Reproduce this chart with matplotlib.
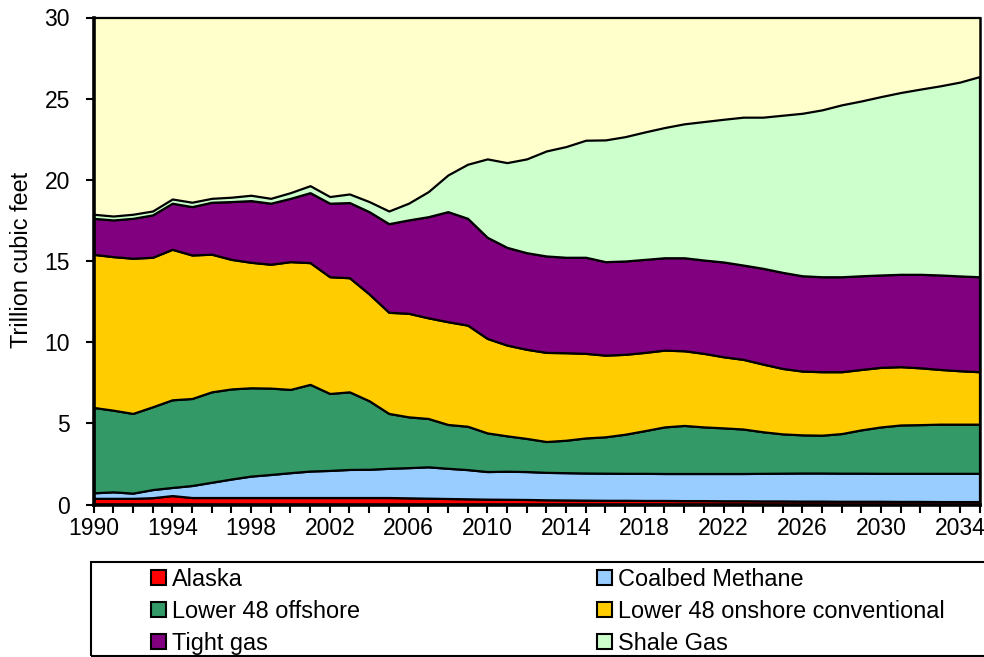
import matplotlib
matplotlib.use("Agg")
import matplotlib.pyplot as plt
from matplotlib import font_manager
from matplotlib.patches import Patch, Rectangle
import numpy as np

years = list(range(1990, 2036))

alaska = [0.38, 0.38, 0.38, 0.42, 0.55, 0.43, 0.43, 0.43, 0.43, 0.43, 0.43, 0.43, 0.43, 0.43, 0.43, 0.43,
          0.41, 0.39, 0.37, 0.35, 0.33, 0.32, 0.31, 0.29, 0.28, 0.27, 0.26, 0.26, 0.25, 0.25, 0.24, 0.24,
          0.23, 0.23, 0.22, 0.22, 0.21, 0.21, 0.20, 0.20, 0.20, 0.19, 0.19, 0.18, 0.18, 0.18]
coalbed = [0.34, 0.40, 0.32, 0.50, 0.50, 0.74, 0.94, 1.14, 1.32, 1.42, 1.53, 1.63, 1.67, 1.73, 1.74, 1.80,
           1.86, 1.93, 1.86, 1.80, 1.70, 1.73, 1.72, 1.69, 1.68, 1.67, 1.67, 1.66, 1.67, 1.66, 1.67, 1.67,
           1.68, 1.68, 1.70, 1.71, 1.73, 1.73, 1.73, 1.73, 1.72, 1.73, 1.73, 1.74, 1.74, 1.74]
offshore = [5.26, 5.03, 4.91, 5.10, 5.40, 5.36, 5.57, 5.55, 5.44, 5.32, 5.13, 5.34, 4.74, 4.78, 4.22, 3.38,
            3.13, 2.98, 2.70, 2.67, 2.38, 2.18, 2.04, 1.90, 2.00, 2.16, 2.24, 2.41, 2.63, 2.87, 2.96, 2.87,
            2.81, 2.74, 2.56, 2.42, 2.35, 2.33, 2.44, 2.67, 2.86, 2.98, 3.00, 3.03, 3.03, 3.03]
onshore = [9.43, 9.46, 9.56, 9.21, 9.27, 8.84, 8.48, 7.98, 7.73, 7.63, 7.87, 7.50, 7.19, 7.03, 6.58, 6.23,
           6.38, 6.20, 6.33, 6.23, 5.82, 5.59, 5.49, 5.49, 5.39, 5.21, 5.03, 4.92, 4.82, 4.73, 4.60, 4.53,
           4.38, 4.29, 4.17, 4.03, 3.93, 3.91, 3.81, 3.72, 3.67, 3.59, 3.50, 3.37, 3.29, 3.23]
tight = [2.22, 2.26, 2.46, 2.61, 2.84, 2.98, 3.20, 3.56, 3.80, 3.76, 3.90, 4.31, 4.53, 4.63, 5.07, 5.46,
         5.75, 6.23, 6.78, 6.58, 6.23, 6.02, 5.95, 5.94, 5.88, 5.92, 5.76, 5.75, 5.73, 5.69, 5.73, 5.75,
         5.84, 5.81, 5.90, 5.92, 5.87, 5.85, 5.85, 5.77, 5.69, 5.69, 5.76, 5.82, 5.84, 5.85]
shale = [0.25, 0.24, 0.25, 0.24, 0.26, 0.27, 0.24, 0.27, 0.33, 0.30, 0.35, 0.43, 0.41, 0.53, 0.62, 0.78,
         1.03, 1.54, 2.26, 3.33, 4.83, 5.22, 5.78, 6.47, 6.82, 7.21, 7.50, 7.66, 7.85, 8.02, 8.25, 8.53,
         8.79, 9.11, 9.31, 9.68, 10.01, 10.28, 10.59, 10.77, 10.99, 11.20, 11.41, 11.65, 11.94, 12.33]

labels = ["Alaska", "Coalbed Methane", "Lower 48 offshore",
          "Lower 48 onshore conventional", "Tight gas", "Shale Gas"]
colors = ["#FF0000", "#99CCFF", "#339966", "#FFCC00", "#800080", "#CCFFCC"]
xtick_labels = [str(y) for y in range(1990, 2035, 4)]

names = {f.name for f in font_manager.fontManager.ttflist}
if "Liberation Sans Narrow" in names:
    fam = ["Liberation Sans Narrow", "DejaVu Sans"]
    sc = 1.0
else:
    fam = ["Liberation Sans", "DejaVu Sans"]
    sc = 0.89
plt.rcParams["font.family"] = fam

W, H = 984, 657
fig = plt.figure(figsize=(W / 100, H / 100), dpi=100)
fig.subplots_adjust(left=93.5 / W, right=979.5 / W, bottom=1 - 504.5 / H, top=1 - 17.5 / H)
ax = fig.add_subplot(111)
ax.set_facecolor("#FFFFCC")

ax.stackplot(years, alaska, coalbed, offshore, onshore, tight, shale,
             colors=colors, edgecolor="black", linewidth=1.6)

ax.set_xlim(1990, 2035)
ax.set_ylim(0, 30)
ax.set_yticks(range(0, 31, 5))
ax.set_xticks(range(1990, 2035, 4))
ax.set_xticklabels(xtick_labels)
ax.set_xticks(range(1990, 2036), minor=True)
ax.tick_params(axis="both", which="both", direction="out", length=6, width=1.5, color="black")
ax.tick_params(axis="x", which="major", labelsize=18.5 * sc, pad=3)
ax.tick_params(axis="y", which="major", labelsize=18.5 * sc, pad=11)

for side, lw in [("left", 2.6), ("bottom", 2.6), ("top", 1.6), ("right", 1.8)]:
    ax.spines[side].set_linewidth(lw)
    ax.spines[side].set_color("black")

fig.text(22 / W, 1 - 260 / H, "Trillion cubic feet", rotation=90, ha="center", va="center",
         fontsize=19 * sc)

# legend box
fig.patches.append(Rectangle((90.5 / W, 1 - 655.5 / H), 1.0, (655.5 - 561.5) / H,
                             transform=fig.transFigure, fill=False, edgecolor="black",
                             linewidth=1.5, clip_on=False))

handles = [Patch(facecolor=c, edgecolor="black", linewidth=1.5) for c in colors]
left_idx = [0, 2, 4]
right_idx = [1, 3, 5]
common = dict(frameon=False, loc="upper left", ncol=1, fontsize=19 * sc,
              handlelength=0.64, handleheight=0.6, handletextpad=0.27,
              labelspacing=0.38, borderpad=0, borderaxespad=0)
leg1 = fig.legend([handles[i] for i in left_idx], [labels[i] for i in left_idx],
                  bbox_to_anchor=(151 / W, 1 - 568 / H), **common)
leg2 = fig.legend([handles[i] for i in right_idx], [labels[i] for i in right_idx],
                  bbox_to_anchor=(597 / W, 1 - 568 / H), **common)

fig.savefig("out.png", dpi=100)
